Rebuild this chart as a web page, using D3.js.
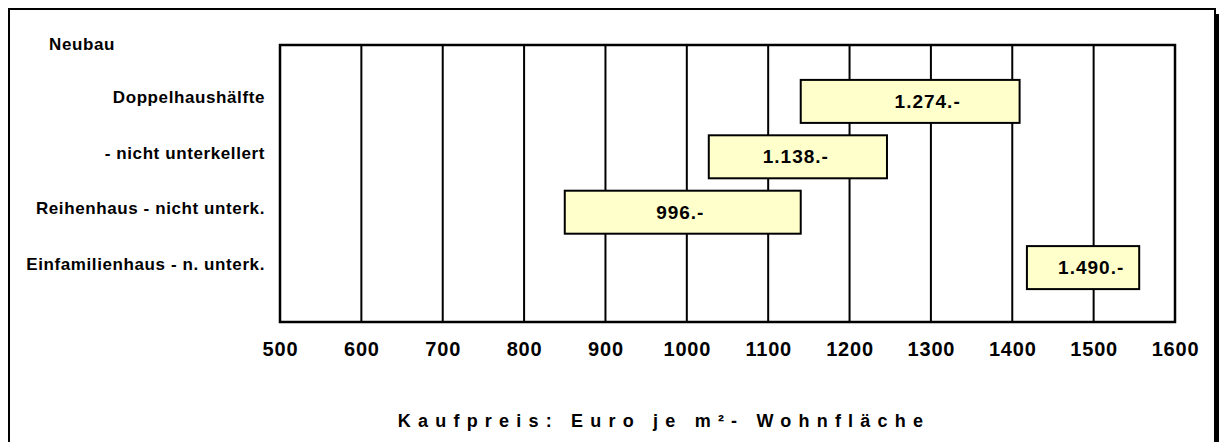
<!DOCTYPE html>
<html>
<head>
<meta charset="utf-8">
<script src="https://cdn.jsdelivr.net/npm/d3@7"></script>
<style>
body{margin:0;background:#fff;}
svg text{font-family:"Liberation Sans",Arial,sans-serif;font-weight:bold;fill:#000;}
</style>
</head>
<body>
<div id="chart"></div>
<script>
// data
var heading = "Neubau";
var categories = ["Doppelhaushälfte", "- nicht unterkellert", "Reihenhaus - nicht unterk.", "Einfamilienhaus - n. unterk."];
var lowValues = [1140, 1027, 850, 1418];
var highValues = [1409, 1246, 1140, 1556];
var labels = ["1.274.-", "1.138.-", "996.-", "1.490.-"];
var labelAt = [1296, 1134, 992, 1497]; // where each label sits on the value axis
var tickValues = [500, 600, 700, 800, 900, 1000, 1100, 1200, 1300, 1400, 1500, 1600];
var axisTitle = "Kaufpreis: Euro je m²- Wohnfläche";

var width = 1219, height = 442;
var svg = d3.select('#chart').append('svg')
	.attr('width', width)
	.attr('height', height);

var plotLeft = 280, plotRight = 1175, plotTop = 45, plotBottom = 322;

var x = d3.scaleLinear().domain([500, 1600]).range([plotLeft, plotRight]);
// heading row on top, blank row at bottom
var y = d3.scalePoint().domain([heading].concat(categories, [""])).range([plotTop, plotBottom]);
var barH = 43;
var fontFam = '"Liberation Sans",Arial,sans-serif';

// outer frame with shadow on the right
svg.append('rect')
	.attr('x', 1215).attr('y', 14).attr('width', 4).attr('height', height)
	.style('fill', '#000');
svg.append('rect')
	.attr('x', 9).attr('y', 9).attr('width', 1206).attr('height', height)
	.style('fill', '#fff').style('stroke', '#000').style('stroke-width', 2);

// grid lines
svg.append('g').selectAll('line').data(tickValues).enter().append('line')
	.attr('x1', d => x(d)).attr('x2', d => x(d))
	.attr('y1', plotTop).attr('y2', plotBottom)
	.style('stroke', '#000').style('stroke-width', 2);

// plot frame
svg.append('rect')
	.attr('x', plotLeft).attr('y', plotTop).attr('width', plotRight - plotLeft).attr('height', plotBottom - plotTop)
	.style('fill', 'none').style('stroke', '#000').style('stroke-width', 2.5);

// x axis labels
var xAxis = d3.axisBottom(x).tickValues(tickValues).tickSize(0).tickPadding(20).tickFormat(d3.format('d'));
var gx = svg.append('g').attr('transform', 'translate(0,' + plotBottom + ')').call(xAxis);
gx.select('.domain').remove();
gx.selectAll('text').style('font-size', '20px').style('font-family', fontFam).style('font-weight', 'bold')
	.style('letter-spacing', '0.8px');

// y labels
var yAxis = d3.axisLeft(y).tickValues(categories).tickSize(0).tickPadding(15);
var gy = svg.append('g').attr('transform', 'translate(' + plotLeft + ',-3)').call(yAxis);
gy.select('.domain').remove();
gy.selectAll('text').style('font-size', '17px').style('font-family', fontFam).style('font-weight', 'bold')
	.style('letter-spacing', '0.6px');

svg.append('text')
	.attr('x', 49).attr('y', y(heading))
	.attr('dy', '0.32em')
	.style('font-size', '17px')
	.style('letter-spacing', '0.6px')
	.text(heading);

// bars
categories.forEach(function(c, i){
	var yc = y(c) + 1;
	svg.append('rect')
		.attr('x', x(lowValues[i]))
		.attr('y', yc - barH / 2)
		.attr('width', x(highValues[i]) - x(lowValues[i]))
		.attr('height', barH)
		.style('fill', '#ffffcc')
		.style('stroke', '#000')
		.style('stroke-width', 2);
	svg.append('text')
		.attr('x', x(labelAt[i]))
		.attr('y', yc)
		.attr('dy', '0.35em')
		.attr('text-anchor', 'middle')
		.style('font-size', '19px')
		.style('letter-spacing', '1px')
		.text(labels[i]);
});

// axis title
svg.append('text')
	.attr('x', 664).attr('y', 421)
	.attr('dy', '0.35em')
	.attr('text-anchor', 'middle')
	.style('font-size', '18px')
	.style('letter-spacing', '7.2px')
	.text(axisTitle);
</script>
</body>
</html>
